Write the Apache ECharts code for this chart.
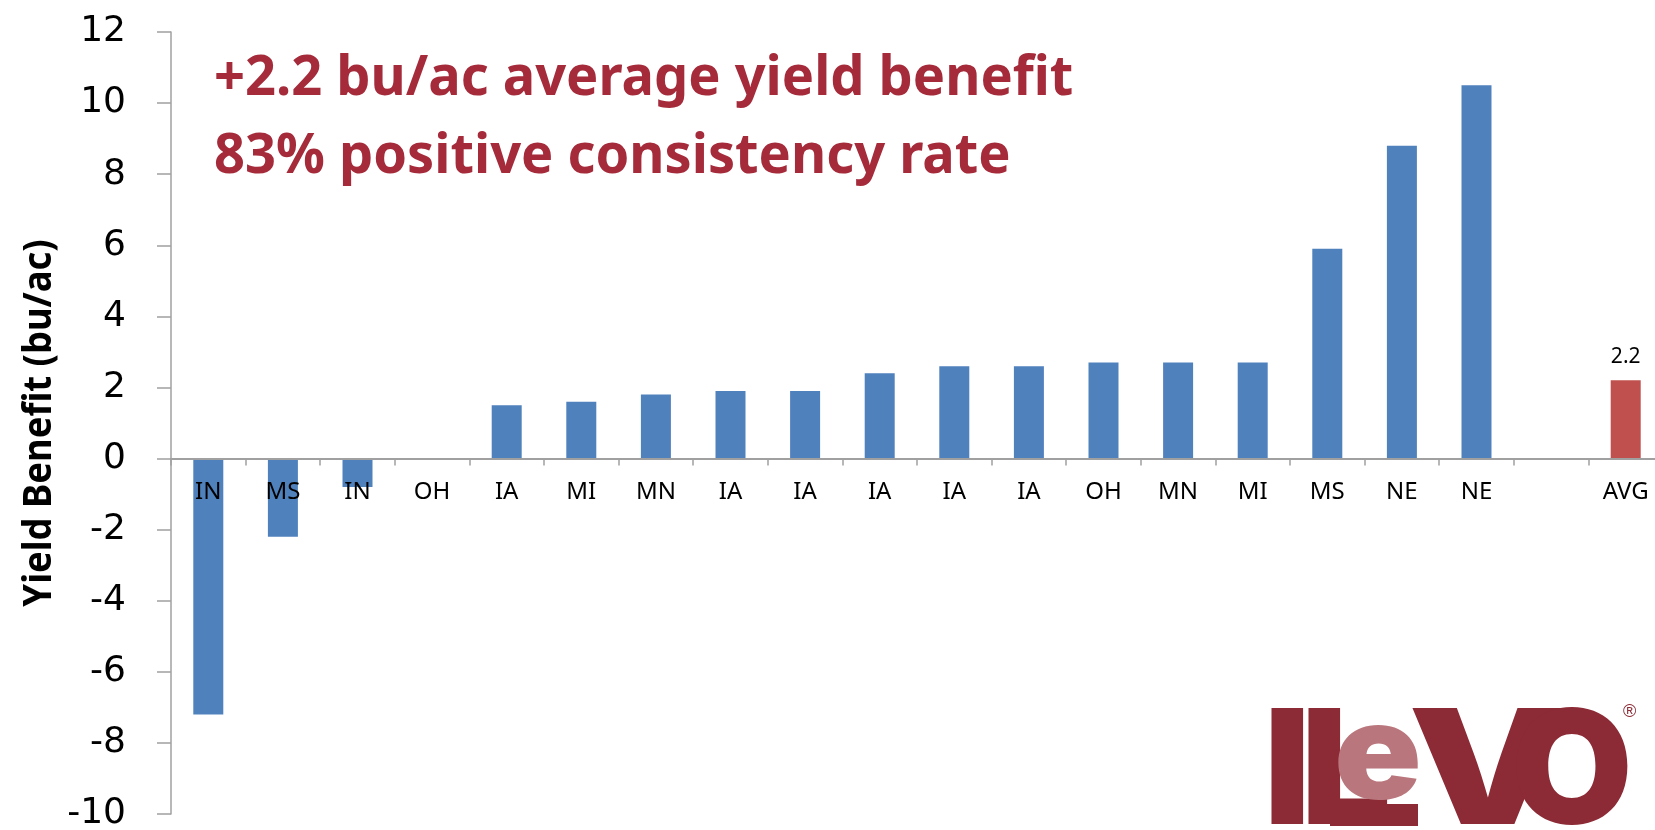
<!DOCTYPE html>
<html>
<head>
<meta charset="utf-8">
<script src="https://cdn.jsdelivr.net/npm/echarts@6/dist/echarts.min.js"></script>
<style>
  html, body { margin: 0; padding: 0; background: #fff; }
  #chart { width: 1655px; height: 830px; }
</style>
</head>
<body>
<div id="chart"></div>
<script>
// trial locations, sorted by yield benefit, then a spacer and the average
const categories = ['IN', 'MS', 'IN', 'OH', 'IA', 'MI', 'MN', 'IA', 'IA', 'IA', 'IA', 'IA', 'OH', 'MN', 'MI', 'MS', 'NE', 'NE', '', 'AVG']
const trialValues = [-7.2, -2.2, -0.8, 0, 1.5, 1.6, 1.8, 1.9, 1.9, 2.4, 2.6, 2.6, 2.7, 2.7, 2.7, 5.9, 8.8, 10.5, null, null]
const averageValues = [null, null, null, null, null, null, null, null, null, null, null, null, null, null, null, null, null, null, null, 2.2]
const yMin = -10
const yMax = 12
const yStep = 2
const headline = ['+2.2 bu/ac average yield benefit', '83% positive consistency rate']
const yTitle = 'Yield Benefit (bu/ac)'

const blue = '#4f81bd'
const red = '#c0504d'
const wine = '#a52a3a'
const logoDark = '#8c2a35'
const logoLight = '#b9767c'
const sans = "'Noto Sans', sans-serif"
const logoFont = 'Inter, Lato, sans-serif'

// plot box in pixels
const gridTop = 32
const gridBottom = 16
const plotHeight = 830 - gridTop - gridBottom
// the category axis sits on the zero line
const zeroOffset = -plotHeight * (0 - yMin) / (yMax - yMin)

const myChart = echarts.init(document.getElementById('chart'))

const option = {
  backgroundColor: '#fff',
  animation: false,
  grid: {
    left: 171,
    right: -8,
    top: gridTop,
    bottom: gridBottom,
    outerBoundsMode: 'none'
  },
  xAxis: {
    type: 'category',
    data: categories,
    offset: zeroOffset,
    z: 5,
    axisLine: { onZero: false, lineStyle: { color: '#a0a0a0', width: 2 }},
    axisTick: { show: true, interval: 0, length: 7, lineStyle: { color: '#a0a0a0', width: 1.5 }},
    axisLabel: { interval: 0, margin: 22, fontSize: 24, color: '#000', fontFamily: sans },
    splitLine: { show: false }
  },
  yAxis: {
    type: 'value',
    min: yMin,
    max: yMax,
    interval: yStep,
    axisLine: { show: true, lineStyle: { color: '#a0a0a0', width: 1.5 }},
    axisTick: { show: true, length: 14, lineStyle: { color: '#a0a0a0', width: 1.5 }},
    axisLabel: { fontSize: 36, color: '#000', margin: 45, fontFamily: "'DejaVu Sans', sans-serif" },
    splitLine: { show: false }
  },
  series: [
    {
      name: 'Trials',
      type: 'bar',
      data: trialValues,
      barWidth: 30,
      itemStyle: { color: blue }
    },
    {
      name: 'Average',
      type: 'bar',
      data: averageValues,
      barWidth: 30,
      barGap: '-100%',
      itemStyle: { color: red },
      label: {
        show: true,
        position: 'top',
        distance: 13,
        fontSize: 21,
        color: '#000',
        fontFamily: sans
      }
    }
  ],
  graphic: [
    {
      type: 'text',
      x: 40,
      y: 423,
      rotation: Math.PI / 2,
      scaleX: 0.91,
      style: { text: yTitle, fill: '#000', font: 'bold 40px ' + sans, align: 'center', verticalAlign: 'middle' }
    },
    {
      type: 'text',
      x: 214,
      y: 79,
      scaleX: 0.985,
      style: { text: headline[0], fill: wine, font: 'bold 55px ' + sans, verticalAlign: 'middle' }
    },
    {
      type: 'text',
      x: 214,
      y: 157,
      scaleX: 0.985,
      style: { text: headline[1], fill: wine, font: 'bold 55px ' + sans, verticalAlign: 'middle' }
    },
    // ILeVO logo, bottom right
    { type: 'text', left: 1264, top: 696, style: { text: 'I', fill: logoDark, font: '900 160px ' + logoFont }},
    { type: 'text', left: 1301, top: 696, style: { text: 'L', fill: logoDark, font: '900 160px ' + logoFont }},
    { type: 'rect', shape: { x: 1330, y: 804, width: 88, height: 22 }, style: { fill: logoDark }},
    { type: 'text', x: 1334, y: 692, scaleX: 1.08, style: { text: 'e', fill: logoLight, font: '900 134px ' + logoFont, verticalAlign: 'top' }},
    { type: 'text', x: 1408, y: 696, scaleX: 1.24, style: { text: 'V', fill: logoDark, font: '900 160px ' + logoFont, verticalAlign: 'top' }},
    { type: 'text', left: 1511, top: 697, style: { text: 'O', fill: logoDark, font: '900 157px ' + logoFont }},
    { type: 'text', left: 1623, top: 703, style: { text: '®', fill: logoDark, font: '18px sans-serif' }}
  ]
}

myChart.setOption(option)
</script>
</body>
</html>
